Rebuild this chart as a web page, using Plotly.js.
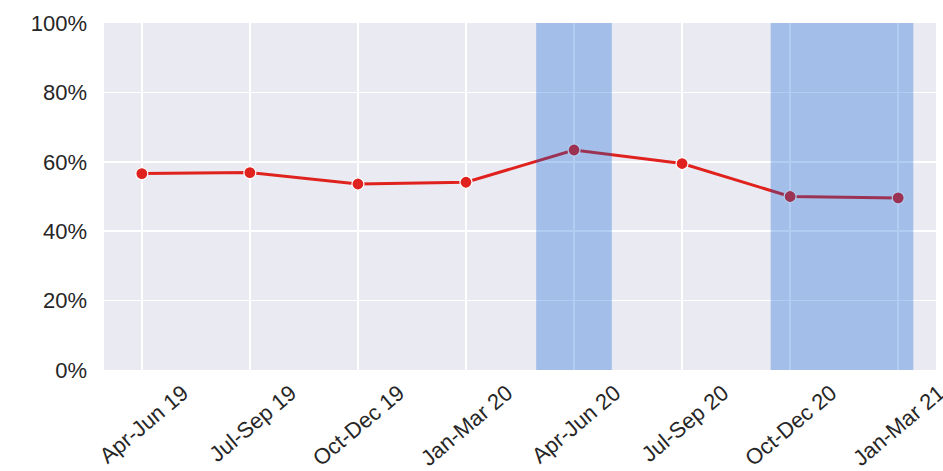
<!DOCTYPE html>
<html>
<head>
<meta charset="utf-8">
<script src="https://cdn.plot.ly/plotly-3.0.1.min.js"></script>
<style>html,body{margin:0;padding:0;background:#fff;}#chart{width:943px;height:471px;}</style>
</head>
<body>
<div id="chart"></div>
<script>
const quarters = ["Apr-Jun 19","Jul-Sep 19","Oct-Dec 19","Jan-Mar 20","Apr-Jun 20","Jul-Sep 20","Oct-Dec 20","Jan-Mar 21"];
const shares = [56.6, 56.9, 53.6, 54.1, 63.4, 59.5, 50.0, 49.6];
const yTicks = [0, 20, 40, 60, 80, 100];
const spanStarts = [3.65, 5.82];
const spanEnds = [4.35, 7.14];

const trace = {
  x: quarters,
  y: shares,
  type: 'scatter',
  mode: 'lines+markers',
  line: {color: '#e0221e', width: 3},
  marker: {color: '#e0221e', size: 12, line: {color: '#ffffff', width: 1.2}},
  hoverinfo: 'skip'
};

const shapes = spanStarts.map((s, i) => ({
  type: 'rect', xref: 'x', yref: 'paper',
  x0: s, x1: spanEnds[i], y0: 0, y1: 1,
  fillcolor: 'rgb(0,88,208)', opacity: 0.3, line: {width: 0}, layer: 'above'
}));

const layout = {
  width: 943, height: 471,
  margin: {l: 104, r: 7, t: 23, b: 101},
  paper_bgcolor: '#ffffff',
  plot_bgcolor: '#eaeaf2',
  showlegend: false,
  font: {family: 'Liberation Sans, Arial, sans-serif', size: 22, color: '#262626'},
  xaxis: {
    type: 'category',
    range: [-0.35, 7.35],
    showgrid: true, gridcolor: '#ffffff', gridwidth: 1.5,
    zeroline: false, showline: false, ticks: '',
    tickangle: -40,
    tickfont: {size: 22},
    ticklabelshift: 41,
    ticklabelstandoff: 5,
    automargin: false
  },
  yaxis: {
    range: [0, 100],
    tickvals: yTicks,
    ticktext: yTicks.map(v => v + '%'),
    showgrid: true, gridcolor: '#ffffff', gridwidth: 1.5,
    zeroline: false, showline: false, ticks: '',
    ticklabelstandoff: 16,
    automargin: false
  },
  shapes: shapes
};

Plotly.newPlot('chart', [trace], layout, {displayModeBar: false, staticPlot: true});
</script>
</body>
</html>
